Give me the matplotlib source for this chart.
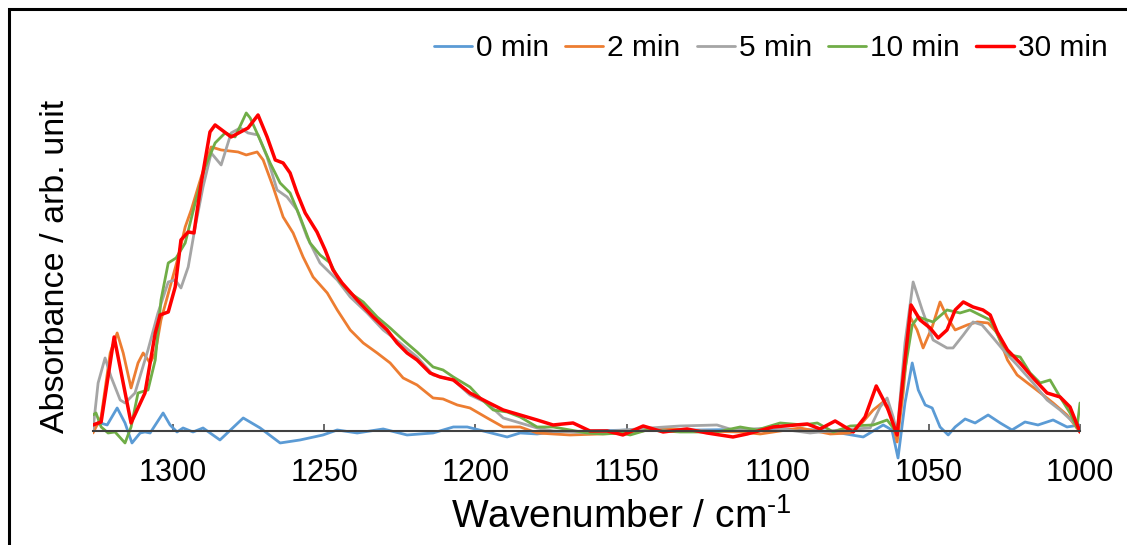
import matplotlib
matplotlib.use('Agg')
import matplotlib.pyplot as plt
from matplotlib.patches import Rectangle

plt.rcParams['font.family'] = ['Liberation Sans', 'DejaVu Sans']
plt.rcParams['mathtext.default'] = 'regular'

# ---- data ----
labels = ['0 min', '2 min', '5 min', '10 min', '30 min']
colors = ['#5B9BD5', '#ED7D31', '#A5A5A5', '#70AD47', '#FF0000']

wn_0 = [1326.5, 1324.1, 1321.8, 1318.5, 1315.9, 1313.6, 1310.9, 1309.3, 1307.6, 1303.3,
        1301.0, 1298.7, 1296.7, 1293.4, 1290.1, 1284.5, 1276.8, 1271.2, 1264.6, 1258.0,
        1250.4, 1245.7, 1239.1, 1230.5, 1222.6, 1214.0, 1207.3, 1202.7, 1196.1, 1189.5,
        1185.2, 1179.6, 1174.3, 1148.8, 1125.7, 1099.2, 1086.9, 1079.4, 1071.7, 1065.1,
        1062.2, 1060.2, 1057.9, 1055.5, 1053.5, 1051.2, 1048.9, 1046.3, 1043.6, 1041.3,
        1038.0, 1034.7, 1030.4, 1026.4, 1022.5, 1018.2, 1013.9, 1008.9, 1004.3, 1000.0]
ab_0 = [0.004, 0.008, 0.006, 0.023, 0.008, -0.012, -0.002, -0.001, -0.002, 0.018,
        0.006, -0.001, 0.003, -0.001, 0.003, -0.009, 0.013, 0.003, -0.012, -0.009,
        -0.004, 0.001, -0.002, 0.002, -0.004, -0.002, 0.004, 0.004, -0.001, -0.006,
        -0.002, -0.003, -0.001, 0.001, 0.001, 0.002, 0.001, -0.002, -0.006, 0.006,
        0.001, -0.027, 0.028, 0.068, 0.041, 0.026, 0.023, 0.004, -0.004, 0.004,
        0.012, 0.008, 0.016, 0.008, 0.001, 0.009, 0.006, 0.011, 0.004, 0.006]

wn_2 = [1326.5, 1323.8, 1320.8, 1318.5, 1316.5, 1313.9, 1311.6, 1309.9, 1307.6, 1305.9,
        1304.0, 1301.0, 1298.3, 1296.0, 1294.0, 1290.7, 1287.4, 1284.1, 1278.5, 1275.8,
        1272.2, 1270.2, 1266.9, 1263.6, 1260.3, 1257.0, 1253.7, 1249.0, 1245.7, 1241.4,
        1237.1, 1232.5, 1228.2, 1223.9, 1219.3, 1214.0, 1210.7, 1206.0, 1201.8, 1196.1,
        1190.8, 1185.2, 1179.6, 1174.3, 1168.7, 1148.8, 1138.9, 1125.7, 1112.4, 1105.8,
        1092.6, 1082.6, 1076.0, 1072.7, 1068.4, 1065.1, 1062.8, 1060.5, 1058.5, 1056.2,
        1053.9, 1051.9, 1048.9, 1046.3, 1044.0, 1041.3, 1037.3, 1034.0, 1030.4, 1027.4,
        1024.0, 1020.8, 1016.5, 1012.2, 1008.9, 1004.3, 1000.0]
ab_2 = [-0.002, 0.014, 0.078, 0.098, 0.078, 0.043, 0.068, 0.078, 0.068, 0.078,
        0.111, 0.144, 0.174, 0.204, 0.221, 0.254, 0.284, 0.281, 0.279, 0.276,
        0.279, 0.271, 0.244, 0.214, 0.198, 0.174, 0.154, 0.138, 0.121, 0.101,
        0.088, 0.078, 0.068, 0.053, 0.046, 0.033, 0.032, 0.026, 0.023, 0.013,
        0.004, 0.004, -0.002, -0.003, -0.004, -0.002, 0.003, 0.000, -0.001, -0.003,
        0.003, -0.003, -0.002, 0.006, 0.021, 0.029, 0.018, -0.011, 0.038, 0.114,
        0.101, 0.083, 0.104, 0.129, 0.114, 0.101, 0.106, 0.109, 0.108, 0.098,
        0.071, 0.056, 0.046, 0.036, 0.028, 0.016, -0.001]

wn_5 = [1326.5, 1324.8, 1322.5, 1320.5, 1317.5, 1315.9, 1312.6, 1308.3, 1305.0, 1301.6,
        1299.3, 1297.4, 1295.0, 1292.7, 1290.1, 1287.4, 1284.1, 1280.8, 1277.8, 1275.2,
        1271.9, 1268.9, 1265.6, 1262.3, 1259.0, 1255.7, 1251.4, 1245.7, 1241.4, 1235.8,
        1230.5, 1224.9, 1219.3, 1214.0, 1207.3, 1201.8, 1196.1, 1190.8, 1185.2, 1179.6,
        1174.3, 1163.1, 1142.2, 1132.3, 1120.1, 1114.8, 1101.5, 1089.3, 1079.4, 1069.4,
        1066.1, 1063.8, 1061.8, 1060.5, 1057.9, 1055.2, 1052.2, 1048.6, 1044.0, 1042.0,
        1038.6, 1035.4, 1032.4, 1028.7, 1025.4, 1020.8, 1015.5, 1010.9, 1006.6, 1002.3,
        1000.0]
ab_5 = [0.001, 0.048, 0.073, 0.054, 0.031, 0.028, 0.038, 0.081, 0.118, 0.149,
        0.151, 0.143, 0.164, 0.204, 0.244, 0.278, 0.266, 0.298, 0.303, 0.298,
        0.296, 0.274, 0.241, 0.234, 0.221, 0.194, 0.168, 0.151, 0.134, 0.118,
        0.101, 0.088, 0.074, 0.056, 0.051, 0.036, 0.028, 0.013, 0.008, 0.003,
        0.000, -0.002, 0.003, 0.005, 0.006, 0.001, 0.003, -0.002, 0.001, 0.003,
        0.024, 0.033, 0.014, -0.002, 0.088, 0.149, 0.121, 0.091, 0.083, 0.083,
        0.096, 0.109, 0.106, 0.093, 0.081, 0.066, 0.048, 0.031, 0.021, 0.009,
        0.001]

wn_10 = [1326.5, 1325.5, 1323.8, 1321.5, 1319.2, 1315.9, 1313.9, 1311.6, 1308.3, 1305.9,
         1304.0, 1301.6, 1299.0, 1296.0, 1292.7, 1289.4, 1286.1, 1282.8, 1279.5, 1275.8,
         1274.5, 1271.2, 1267.9, 1264.6, 1261.3, 1258.0, 1254.7, 1251.4, 1248.0, 1244.8,
         1241.4, 1237.1, 1232.5, 1228.2, 1223.9, 1219.3, 1214.0, 1210.7, 1207.3, 1201.8,
         1198.4, 1194.1, 1189.5, 1185.2, 1179.6, 1174.3, 1168.7, 1163.1, 1157.8, 1152.1,
         1148.8, 1143.2, 1132.3, 1120.1, 1112.4, 1106.8, 1099.2, 1091.6, 1086.9, 1081.6,
         1076.0, 1068.4, 1063.8, 1060.5, 1057.9, 1055.5, 1053.5, 1048.6, 1044.0, 1039.7,
         1036.4, 1033.1, 1029.7, 1026.4, 1023.1, 1019.8, 1016.5, 1013.2, 1009.9, 1006.6,
         1003.3, 1001.0, 1000.0]
ab_10 = [0.016, 0.018, 0.004, -0.002, -0.001, -0.012, 0.004, 0.038, 0.041, 0.071,
         0.131, 0.168, 0.173, 0.188, 0.228, 0.264, 0.288, 0.298, 0.294, 0.318,
         0.313, 0.291, 0.268, 0.248, 0.238, 0.214, 0.188, 0.176, 0.168, 0.149,
         0.138, 0.129, 0.114, 0.103, 0.091, 0.079, 0.064, 0.061, 0.054, 0.044,
         0.033, 0.021, 0.019, 0.014, 0.004, 0.004, 0.001, -0.002, -0.003, -0.002,
         -0.004, 0.001, -0.001, -0.001, 0.004, 0.001, 0.008, 0.006, 0.008, -0.001,
         0.005, 0.006, 0.011, -0.002, 0.061, 0.106, 0.114, 0.109, 0.121, 0.118,
         0.121, 0.116, 0.111, 0.091, 0.076, 0.074, 0.058, 0.048, 0.051, 0.034,
         0.018, 0.003, 0.028]

wn_30 = [1326.5, 1323.8, 1319.5, 1313.9, 1309.3, 1305.9, 1304.3, 1301.6, 1299.3, 1297.4,
         1295.0, 1293.1, 1290.7, 1287.8, 1286.1, 1280.8, 1275.2, 1271.9, 1268.9, 1266.2,
         1263.6, 1261.3, 1259.0, 1256.3, 1252.4, 1249.7, 1247.1, 1244.1, 1239.1, 1233.8,
         1229.2, 1225.9, 1222.6, 1219.3, 1215.0, 1211.7, 1207.3, 1201.8, 1196.1, 1190.8,
         1185.2, 1179.6, 1174.3, 1167.7, 1162.1, 1156.4, 1151.2, 1144.5, 1137.9, 1130.0,
         1123.4, 1114.8, 1110.1, 1101.5, 1090.2, 1086.0, 1081.0, 1075.0, 1071.1, 1067.4,
         1063.8, 1060.5, 1057.9, 1055.9, 1052.9, 1049.6, 1046.9, 1044.0, 1041.3, 1038.6,
         1035.4, 1032.1, 1029.7, 1027.4, 1024.0, 1019.8, 1015.5, 1010.9, 1006.6, 1003.3,
         1000.0]
ab_30 = [0.006, 0.009, 0.094, 0.008, 0.038, 0.098, 0.116, 0.119, 0.144, 0.191,
         0.199, 0.198, 0.248, 0.299, 0.306, 0.294, 0.303, 0.316, 0.294, 0.271,
         0.268, 0.258, 0.238, 0.218, 0.199, 0.181, 0.161, 0.148, 0.131, 0.114,
         0.101, 0.088, 0.078, 0.071, 0.058, 0.054, 0.051, 0.038, 0.029, 0.021,
         0.016, 0.011, 0.006, 0.008, 0.000, 0.000, -0.004, 0.005, -0.001, 0.002,
         -0.002, -0.006, -0.003, 0.004, 0.007, 0.002, 0.010, -0.001, 0.014, 0.045,
         0.024, -0.004, 0.071, 0.126, 0.111, 0.103, 0.093, 0.101, 0.121, 0.129,
         0.124, 0.121, 0.116, 0.099, 0.081, 0.068, 0.053, 0.038, 0.034, 0.024,
         -0.001]

x_ticks = [1300, 1250, 1200, 1150, 1100, 1050, 1000]

series = [(wn_0, ab_0), (wn_2, ab_2), (wn_5, ab_5), (wn_10, ab_10), (wn_30, ab_30)]
widths = [2.0, 2.0, 2.0, 2.0, 2.5]

fig = plt.figure(figsize=(11.27, 5.45), dpi=100)
ax = fig.add_axes([0.0825, 0.145, 0.8758, 0.7248])

for (x, y), lab, c, lw in zip(series, labels, colors, widths):
    ax.plot(x, y, color=c, linewidth=lw, label=lab,
            solid_joinstyle='round', solid_capstyle='round')

ax.set_xlim(1326.5, 1000)
ax.set_ylim(-0.035, 0.36)
ax.set_xticks(x_ticks)
ax.set_yticks([])

# horizontal axis sits at zero, labels kept below the plot
ax.spines['bottom'].set_position(('data', 0))
ax.spines['bottom'].set_color('#404040')
ax.spines['bottom'].set_linewidth(1.5)
ax.spines['left'].set_visible(False)
ax.spines['top'].set_visible(False)
ax.spines['right'].set_visible(False)
ax.tick_params(axis='x', direction='in', length=5, width=1.1, color='#404040',
               pad=19.5, labelsize=22)
ax.patch.set_alpha(0)

fig.text(0.049, 0.512, 'Absorbance / arb. unit', rotation=90, fontsize=24.5,
         ha='center', va='center')
fig.text(0.551, 0.051, 'Wavenumber / cm$^{\u20101}$', fontsize=28, ha='center', va='center')

fig.legend(loc='center right', bbox_to_anchor=(0.983, 0.912), ncol=5, frameon=False,
           fontsize=21.5, handlelength=1.27, handletextpad=0.13, columnspacing=0.55,
           borderpad=0, borderaxespad=0)

# black frame round the chart
fig.patches.append(Rectangle((8.5 / 1127, -0.1), 1.2, 1.1 - 9.5 / 545, fill=False,
                             edgecolor='black', linewidth=2.2,
                             transform=fig.transFigure, figure=fig))

fig.savefig('out.png', dpi=100)
